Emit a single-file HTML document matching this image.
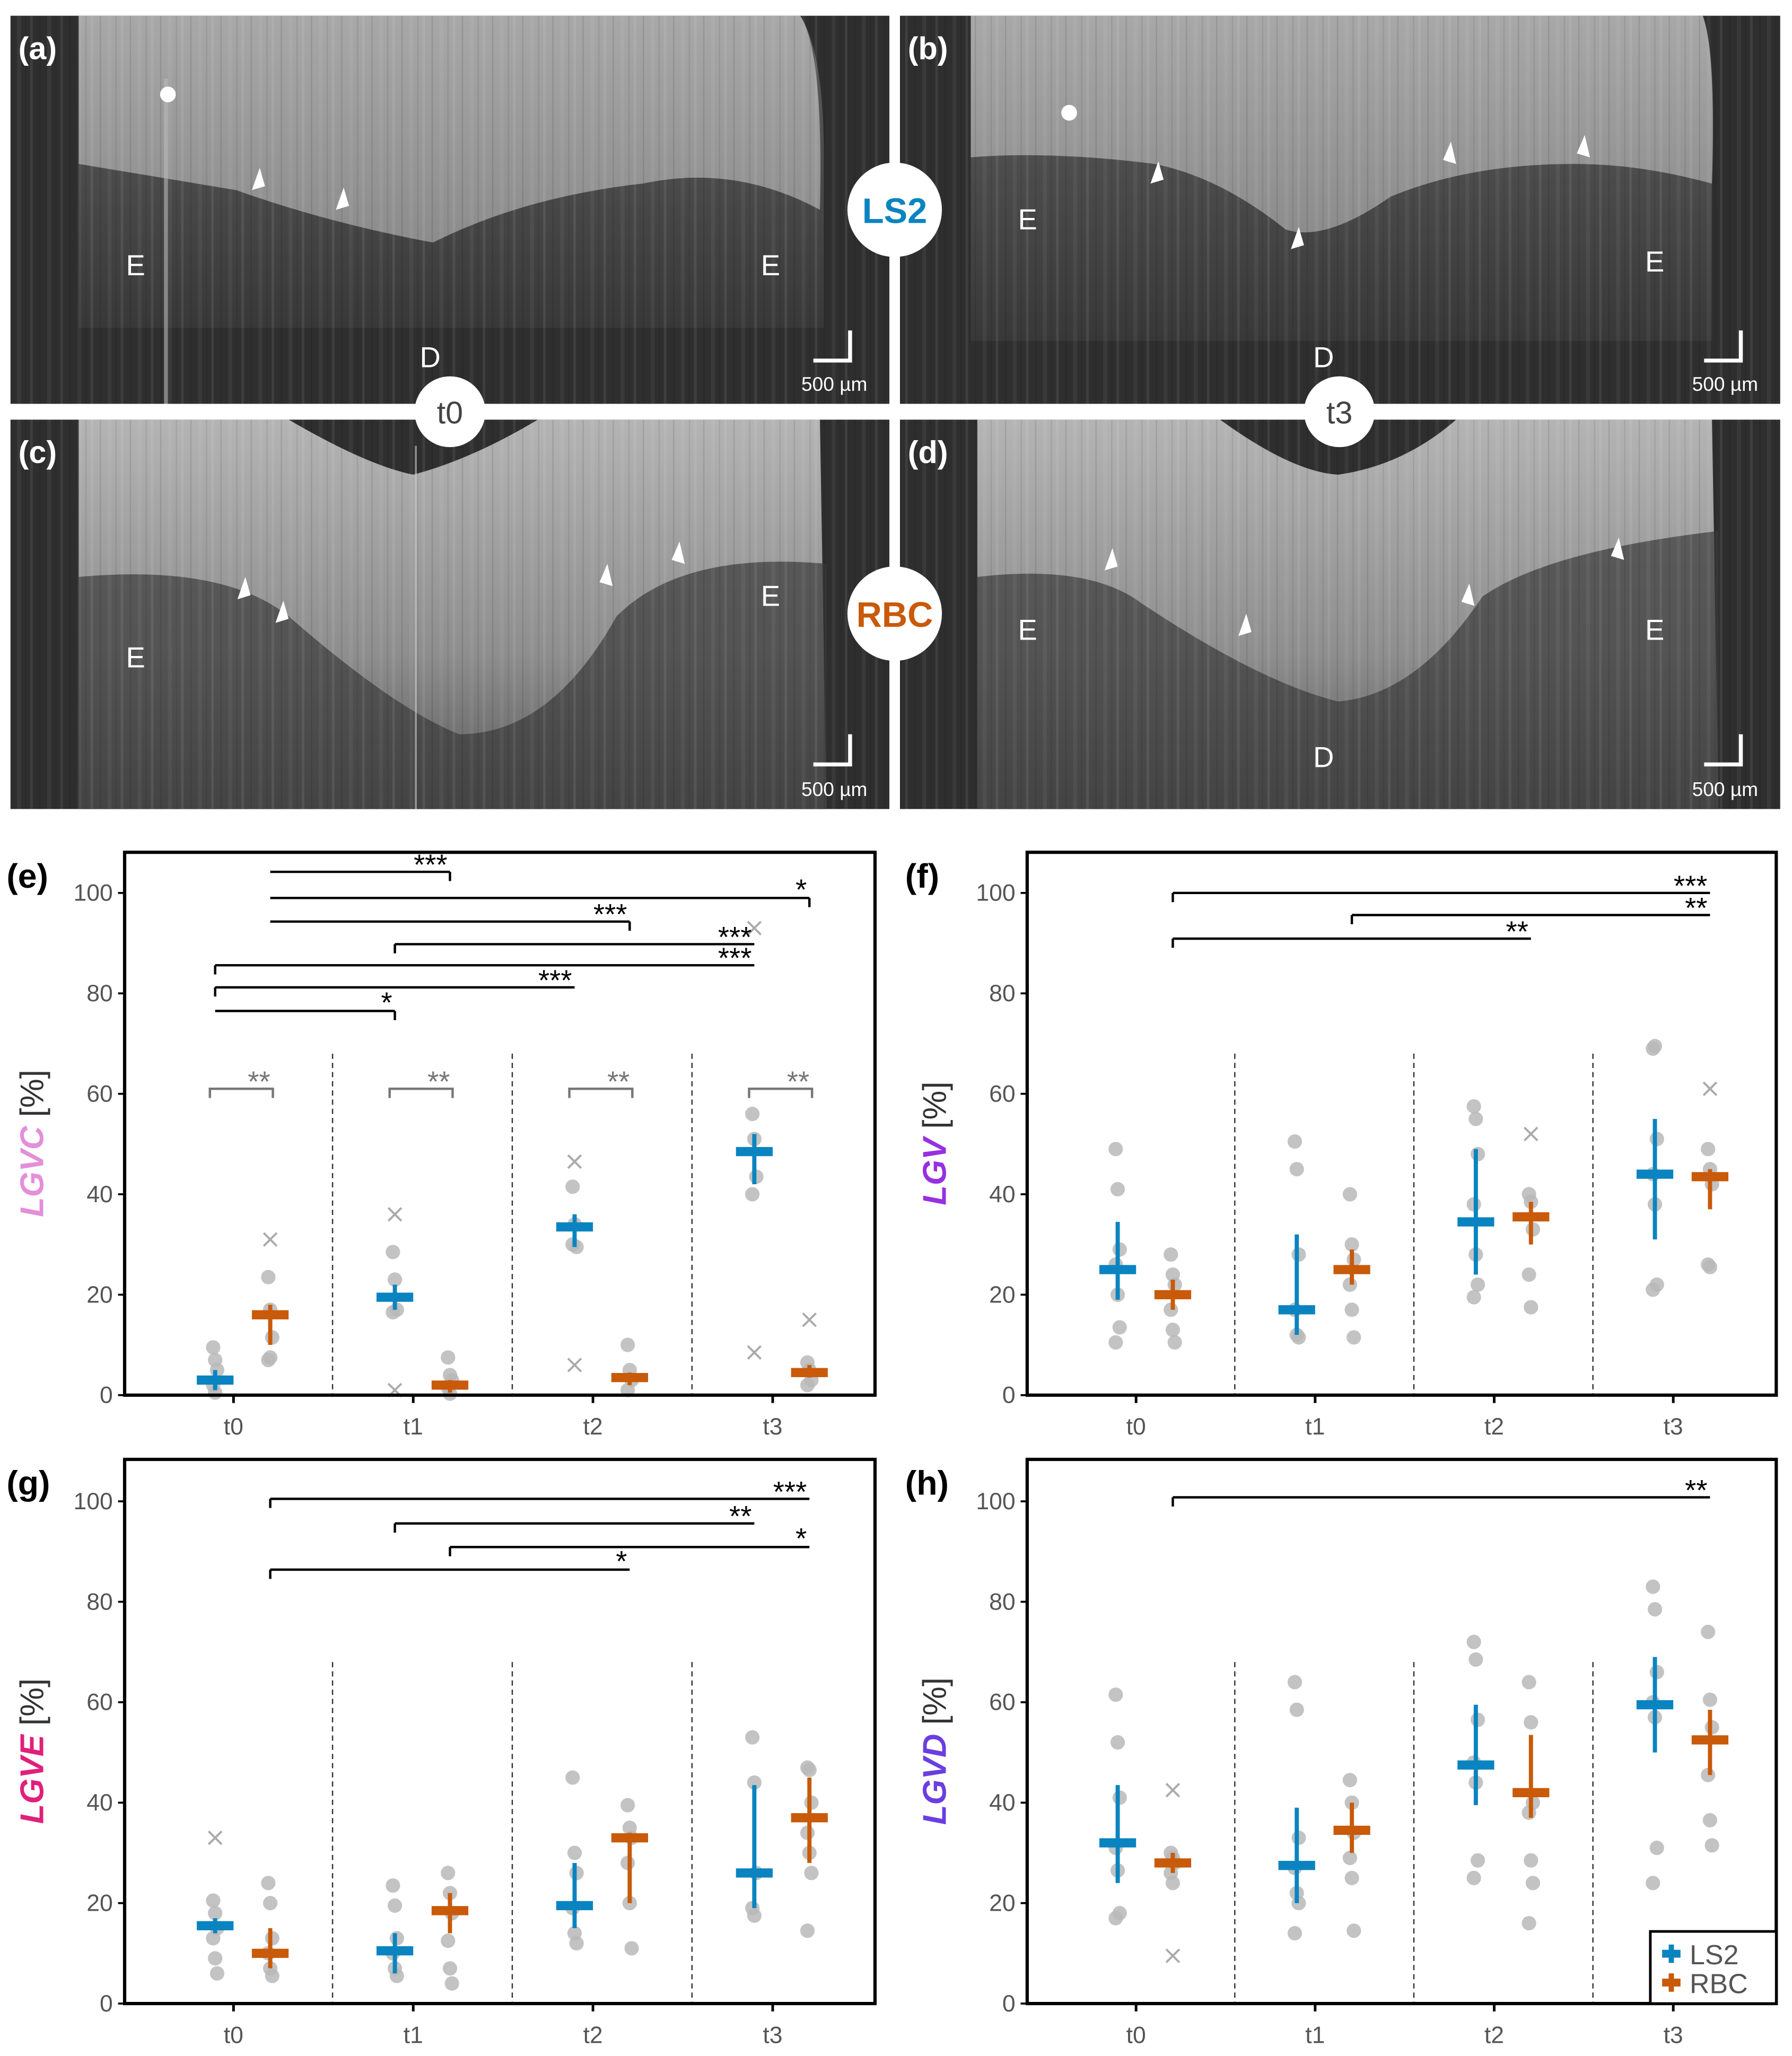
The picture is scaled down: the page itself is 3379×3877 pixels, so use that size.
<!DOCTYPE html>
<html><head><meta charset="utf-8">
<style>
html,body{margin:0;padding:0;background:#fff;}
svg{display:block;}
text{font-family:"Liberation Sans",sans-serif;}
</style></head>
<body>
<svg id="fig" xmlns="http://www.w3.org/2000/svg" width="3379" height="3877" viewBox="0 0 1366 1568" preserveAspectRatio="none">
<defs>
<linearGradient id="lightG" x1="0" y1="0" x2="0" y2="1"><stop offset="0" stop-color="#a8a8a8"/><stop offset="1" stop-color="#8c8c8c"/></linearGradient>
<linearGradient id="midG" x1="0" y1="0" x2="0" y2="1"><stop offset="0" stop-color="#5e5e5e"/><stop offset="1" stop-color="#383838"/></linearGradient>
<linearGradient id="lightC" x1="0" y1="0" x2="0" y2="1"><stop offset="0" stop-color="#b4b4b4"/><stop offset="0.6" stop-color="#8e8e8e"/><stop offset="1" stop-color="#5a5a5a"/></linearGradient>
<pattern id="stripes" width="23" height="10" patternUnits="userSpaceOnUse">
 <rect x="0" y="0" width="2" height="10" fill="#fff" opacity="0.08"/>
 <rect x="7" y="0" width="1" height="10" fill="#000" opacity="0.10"/>
 <rect x="13" y="0" width="3" height="10" fill="#fff" opacity="0.05"/>
 <rect x="19" y="0" width="1" height="10" fill="#000" opacity="0.08"/>
</pattern>
</defs>
<g id="images">
 <g>
  <rect x="8" y="12" width="670" height="296" fill="#2e2e2e"/>
  <path d="M60,12 H610 Q628,40 628,120 L628,250 L60,250 Z" fill="url(#midG)"/>
  <path d="M60,12 H610 Q628,40 625,160 Q560,125 490,140 Q400,150 330,185 Q250,170 180,145 Q120,135 60,125 Z" fill="url(#lightG)"/>
  <rect x="8" y="12" width="670" height="296" fill="url(#stripes)"/>
  <rect x="125" y="60" width="3" height="248" fill="#bbb" opacity="0.6"/>
  <circle cx="128" cy="72" r="6" fill="#fff"/>
 </g>
 <g>
  <rect x="686" y="12" width="671" height="296" fill="#2e2e2e"/>
  <path d="M740,12 H1298 Q1308,40 1305,120 L1305,260 L740,260 Z" fill="url(#midG)"/>
  <path d="M740,12 H1298 Q1308,40 1305,140 Q1250,125 1200,125 Q1120,125 1060,150 Q1010,185 980,175 Q930,135 880,125 Q800,115 740,120 Z" fill="url(#lightG)"/>
  <rect x="686" y="12" width="671" height="296" fill="url(#stripes)"/>
  <circle cx="815" cy="86" r="6" fill="#fff"/>
 </g>
 <g>
  <rect x="8" y="320" width="670" height="297" fill="#2e2e2e"/>
  <path d="M60,320 H220 Q280,355 315,362 Q360,350 410,320 H625 L630,617 H60 Z" fill="url(#lightC)"/>
  <path d="M60,440 Q170,430 220,470 Q300,540 350,560 Q420,560 470,470 Q520,420 630,430 L630,617 L60,617 Z" fill="#3a3a3a" opacity="0.7"/>
  <rect x="8" y="320" width="670" height="297" fill="url(#stripes)"/>
  <line x1="317" y1="340" x2="317" y2="617" stroke="#ccc" stroke-width="1.5" opacity="0.6"/>
 </g>
 <g>
  <rect x="686" y="320" width="671" height="297" fill="#2e2e2e"/>
  <path d="M745,320 H930 Q985,360 1020,362 Q1070,355 1110,320 H1305 L1310,617 H745 Z" fill="url(#lightC)"/>
  <path d="M745,440 Q830,430 870,460 Q960,520 1020,535 Q1080,530 1130,455 Q1180,420 1310,405 L1310,617 L745,617 Z" fill="#3a3a3a" opacity="0.7"/>
  <rect x="686" y="320" width="671" height="297" fill="url(#stripes)"/>
 </g>
 <g fill="#fff" font-size="22">
  <text x="14" y="45" font-weight="bold" font-size="24">(a)</text>
  <text x="692" y="45" font-weight="bold" font-size="24">(b)</text>
  <text x="14" y="353" font-weight="bold" font-size="24">(c)</text>
  <text x="692" y="353" font-weight="bold" font-size="24">(d)</text>
  <text x="96" y="210">E</text><text x="580" y="210">E</text><text x="320" y="280">D</text>
  <text x="776" y="175">E</text><text x="1254" y="207">E</text><text x="1001" y="280">D</text>
  <text x="96" y="509">E</text><text x="580" y="462">E</text>
  <text x="776" y="488">E</text><text x="1254" y="488">E</text><text x="1001" y="585">D</text>
 </g>
 <g fill="#fff">
  <path d="M198,128 l-6,17 l10,-3z"/><path d="M262,143 l-6,17 l10,-3z"/>
  <path d="M883,123 l-6,17 l10,-3z"/><path d="M990,173 l-6,17 l10,-3z"/><path d="M1106,108 l4,17 l-10,-3z"/><path d="M1208,103 l4,17 l-10,-3z"/>
  <path d="M187,440 l-6,17 l10,-3z"/><path d="M216,458 l-6,17 l10,-3z"/><path d="M463,430 l4,17 l-10,-3z"/><path d="M518,413 l4,17 l-10,-3z"/>
  <path d="M848,418 l-6,17 l10,-3z"/><path d="M950,468 l-6,17 l10,-3z"/><path d="M1120,445 l4,17 l-10,-3z"/><path d="M1234,410 l4,17 l-10,-3z"/>
 </g>
 <g stroke="#fff" stroke-width="3" fill="none">
  <path d="M648,252 V275 H620"/><path d="M1327,252 V275 H1299"/><path d="M648,560 V583 H620"/><path d="M1327,560 V583 H1299"/>
 </g>
 <g fill="#fff" font-size="15" text-anchor="middle">
  <text x="636" y="298">500 µm</text><text x="1315" y="298">500 µm</text><text x="636" y="607">500 µm</text><text x="1315" y="607">500 µm</text>
 </g>
 <rect x="678" y="12" width="8" height="605" fill="#fff"/>
 <rect x="8" y="308" width="1349" height="12" fill="#fff"/>
 <g><circle cx="682" cy="160" r="36" fill="#fff"/><text x="682" y="170" text-anchor="middle" font-size="27" font-weight="bold" fill="#0a84c0">LS2</text></g>
 <g><circle cx="682" cy="468" r="36" fill="#fff"/><text x="682" y="478" text-anchor="middle" font-size="27" font-weight="bold" fill="#c85a0a">RBC</text></g>
 <g><circle cx="343" cy="314" r="27" fill="#fff"/><text x="343" y="323" text-anchor="middle" font-size="24" fill="#444">t0</text></g>
 <g><circle cx="1021" cy="314" r="27" fill="#fff"/><text x="1021" y="323" text-anchor="middle" font-size="24" fill="#444">t3</text></g>
</g>
<g id="charts"></g>
</svg>
<script>
const categories = ["t0","t1","t2","t3"];
const yTicks = [0,20,40,60,80,100];
const series = ["LS2","RBC"];
// panel e LGVC
const eLS2Mean=[3,19.5,33.5,48.5], eLS2Lo=[1,17,29.5,42], eLS2Hi=[5,22,36,52];
const eRBCMean=[16,2,3.5,4.5], eRBCLo=[10,0.5,2,3.5], eRBCHi=[18,3,4.5,6];
const eLS2Pts=[[9.5,7,5,2,0.5],[28.5,23,17,16.5],[41.5,34,29.5,30],[56,51,43.5,40]];
const eRBCPts=[[23.5,17,11.5,7,7.5],[7.5,4,3,1.5,0.3],[10,5,3,1],[6.5,5,3,2]];
const eLS2X=[[],[36,1],[46.5,6],[93,8.5]];
const eRBCX=[[31],[],[],[15]];
// panel f LGV
const fLS2Mean=[25,17,34.5,44], fLS2Lo=[19,12,24,31], fLS2Hi=[34.5,32,49,55];
const fRBCMean=[20,25,35.5,43.5], fRBCLo=[17,22,30,37], fRBCHi=[23,29,38.5,45];
const fLS2Pts=[[49,41,29,26,20,13.5,10.5],[50.5,45,28,17,12,11.5],[57.5,55,48,38,28,22,19.5],[69,69.5,51,44,38,22,21]];
const fRBCPts=[[28,24,22,17,13,10.5],[40,30,27,22,17,11.5],[40,38.5,33,24,17.5],[49,45,42,26,25.5]];
const fLS2X=[[],[],[],[]];
const fRBCX=[[],[],[52],[61]];
// panel g LGVE
const gLS2Mean=[15.5,10.5,19.5,26], gLS2Lo=[14,6,15,19], gLS2Hi=[17,14,28,43.5];
const gRBCMean=[10,18.5,33,37], gRBCLo=[7,14,20,28], gRBCHi=[15,22,34,45];
const gLS2Pts=[[20.5,18,15,13,9,6],[23.5,19.5,13,10,7,5.5],[45,30,26,19,14,12],[53,44,26,19,17.5]];
const gRBCPts=[[24,20,13,10,7,5.5],[26,22,18,12.5,7,4],[39.5,35,33,28,20,11],[47,46.5,40,34,30,26,14.5]];
const gLS2X=[[33],[],[],[]];
const gRBCX=[[],[],[],[]];
// panel h LGVD
const hLS2Mean=[32,27.5,47.5,59.5], hLS2Lo=[24,20,39.5,50], hLS2Hi=[43.5,39,59.5,69];
const hRBCMean=[28,34.5,42,52.5], hRBCLo=[26,30,37,45.5], hRBCHi=[30,40,53.5,58.5];
const hLS2Pts=[[61.5,52,41,31,26.5,18,17],[64,58.5,33,27,22,20,14],[72,68.5,56.5,48,44,28.5,25],[83,78.5,66,60,57,31,24]];
const hRBCPts=[[30,29,28,26,24],[44.5,40,34,29,25,14.5],[64,56,40,38,28.5,24,16],[74,60.5,55,45.5,36.5,31.5]];
const hLS2X=[[],[],[],[]];
const hRBCX=[[42.5,9.5],[],[],[]];
// brackets: [fromCat, fromSeries(0=LS2,1=RBC), toCat, toSeries, yValue, label, tickSide]
const eBrackets=[[0,1,1,1,104.2,"***","R"],[0,1,3,1,99,"*","R"],[0,1,2,1,94.3,"***","R"],[1,0,3,0,89.8,"***","L"],[0,0,3,0,85.6,"***","L"],[0,0,2,0,81.2,"***","L"],[0,0,1,0,76.5,"*","R"]];
const fBrackets=[[0,1,3,1,100,"***","L"],[1,1,3,1,95.6,"**","L"],[0,1,2,1,90.9,"**","L"]];
const gBrackets=[[0,1,3,1,100.5,"***","L"],[1,0,3,0,95.6,"**","L"],[1,1,3,1,90.9,"*","L"],[0,1,2,1,86.4,"*","L"]];
const hBrackets=[[0,1,3,1,100.8,"**","L"]];
const eWithin=["**","**","**","**"];
const eWithinY=61;

const NS="http://www.w3.org/2000/svg";
const COL=["#0a84c0","#c85a0a"];
const root=document.getElementById("charts");
function mk(tag,attrs,parent,txt){const el=document.createElementNS(NS,tag);for(const k in attrs)el.setAttribute(k,attrs[k]);if(txt!==undefined)el.textContent=txt;parent.appendChild(el);return el;}

function panel(cfg){
  const g=mk("g",{},root);
  
  
  const {fx0,fx1,fy0,fy1,tick0,step}=cfg;
  const ys=v=>fy1-v*3.83;
  const xs=(c,s)=>tick0+c*step+(s===0?-14:28);
  yTicks.forEach(t=>{
    const tl=mk("text",{x:fx0-9,y:ys(t)+6,"text-anchor":"end","font-size":"18",fill:"#555"},g,String(t));
    
    
    mk("line",{x1:fx0-5,x2:fx0,y1:ys(t),y2:ys(t),stroke:"#000","stroke-width":1.5},g);
  });
  categories.forEach((c,i)=>{
    const x=tick0+i*step;
    mk("line",{x1:x,x2:x,y1:fy1,y2:fy1+6,stroke:"#000","stroke-width":2},g);
    const tl=mk("text",{x:x,y:fy1+30,"text-anchor":"middle","font-size":"18",fill:"#555"},g,c);
    
    
    if(i<3){const dl=mk("line",{x1:x+step/2+7,x2:x+step/2+7,y1:ys(68),y2:fy1,stroke:"#333","stroke-width":1,"stroke-dasharray":"4,3"},g);
      
      }
  });
  [cfg.ls2Pts,cfg.rbcPts].forEach((arr,s)=>{
    arr.forEach((pts,c)=>pts.forEach((v,k)=>{
      const p=mk("circle",{cx:xs(c,s)+((k%3)-1)*1.5,cy:ys(v),r:5.5,fill:"#b8b8b8",opacity:0.85},g);
      
      
    }));
  });
  [cfg.ls2X,cfg.rbcX].forEach((arr,s)=>{
    arr.forEach((pts,c)=>pts.forEach(v=>{
      const x=xs(c,s),y=ys(v);
      const p=mk("path",{d:`M${x-5},${y-5}L${x+5},${y+5}M${x+5},${y-5}L${x-5},${y+5}`,stroke:"#aaa","stroke-width":1.6},g);
      
      
    }));
  });
  [[cfg.ls2Mean,cfg.ls2Lo,cfg.ls2Hi],[cfg.rbcMean,cfg.rbcLo,cfg.rbcHi]].forEach((a,s)=>{
    a[0].forEach((m,c)=>{
      const x=xs(c,s);
      const e=mk("line",{x1:x,x2:x,y1:ys(a[1][c]),y2:ys(a[2][c]),stroke:COL[s],"stroke-width":3.2},g);
      
      
      const r=mk("rect",{x:x-14,y:ys(m)-3.5,width:28,height:7,fill:COL[s]},g);
      
      
    });
  });
  cfg.brackets.forEach(b=>{
    const x1=xs(b[0],b[1]),x2=xs(b[2],b[3]),y=ys(b[4]);
    const tx=b[6]==="L"?x1:x2;
    const p=mk("path",{d:`M${x1},${y}H${x2}M${tx},${y}v7`,stroke:"#000","stroke-width":1.8,fill:"none"},g);
    
    
    const t=mk("text",{x:x2-2,y:y+(b[5].length===1?1:2),"text-anchor":"end","font-size":"22",fill:"#000"},g,b[5]);
    
    
  });
  if(cfg.within){cfg.within.forEach((lab,c)=>{
    const x1=xs(c,0)-4,x2=xs(c,1)+2,y=ys(eWithinY);
    const p=mk("path",{d:`M${x1},${y+7}V${y}H${x2}V${y+7}`,stroke:"#777","stroke-width":1.8,fill:"none"},g);
    
    
    const t=mk("text",{x:x2-2,y:y+2,"text-anchor":"end","font-size":"22",fill:"#777"},g,lab);
    
    
  });}
  const fr=mk("rect",{x:fx0,y:fy0,width:fx1-fx0,height:fy1-fy0,fill:"none",stroke:"#000","stroke-width":2.5},g);
  
  
  const pl=mk("text",{x:cfg.lx,y:fy0+27,"font-size":"26","font-weight":"bold",fill:"#000"},g,"("+cfg.id+")");
  
  
  const cy=(fy0+fy1)/2+15, cx=fx0-62;
  const yt=mk("text",{x:cx,y:cy,transform:`rotate(-90 ${cx} ${cy})`,"text-anchor":"middle","font-size":"25",fill:"#333"},g);
  
  
  mk("tspan",{fill:cfg.color,"font-style":"italic","font-weight":"bold"},yt,cfg.title);
  mk("tspan",{},yt," [%]");
}
panel({id:"e",fx0:95,fx1:667,fy0:650,fy1:1064,tick0:178,step:137,lx:5,title:"LGVC",color:"#e38fda",
 ls2Mean:eLS2Mean,ls2Lo:eLS2Lo,ls2Hi:eLS2Hi,rbcMean:eRBCMean,rbcLo:eRBCLo,rbcHi:eRBCHi,ls2Pts:eLS2Pts,rbcPts:eRBCPts,ls2X:eLS2X,rbcX:eRBCX,brackets:eBrackets,within:eWithin});
panel({id:"f",fx0:783,fx1:1354,fy0:650,fy1:1064,tick0:866,step:136.5,lx:690,title:"LGV",color:"#9630e0",
 ls2Mean:fLS2Mean,ls2Lo:fLS2Lo,ls2Hi:fLS2Hi,rbcMean:fRBCMean,rbcLo:fRBCLo,rbcHi:fRBCHi,ls2Pts:fLS2Pts,rbcPts:fRBCPts,ls2X:fLS2X,rbcX:fRBCX,brackets:fBrackets});
panel({id:"g",fx0:95,fx1:667,fy0:1113,fy1:1528,tick0:178,step:137,lx:5,title:"LGVE",color:"#e0207a",
 ls2Mean:gLS2Mean,ls2Lo:gLS2Lo,ls2Hi:gLS2Hi,rbcMean:gRBCMean,rbcLo:gRBCLo,rbcHi:gRBCHi,ls2Pts:gLS2Pts,rbcPts:gRBCPts,ls2X:gLS2X,rbcX:gRBCX,brackets:gBrackets});
panel({id:"h",fx0:783,fx1:1354,fy0:1113,fy1:1528,tick0:866,step:136.5,lx:690,title:"LGVD",color:"#6a3ee0",
 ls2Mean:hLS2Mean,ls2Lo:hLS2Lo,ls2Hi:hLS2Hi,rbcMean:hRBCMean,rbcLo:hRBCLo,rbcHi:hRBCHi,ls2Pts:hLS2Pts,rbcPts:hRBCPts,ls2X:hLS2X,rbcX:hRBCX,brackets:hBrackets});
const lg=mk("g",{},root);


mk("rect",{x:1258,y:1473,width:96,height:55,fill:"#fff",stroke:"#000","stroke-width":2},lg);
series.forEach((s,i)=>{
  const y=1490+i*22;
  const e=mk("g",{},lg);
  
  
  mk("rect",{x:1267,y:y-3,width:14,height:6,fill:COL[i]},e);
  mk("rect",{x:1272,y:y-7,width:4,height:14,fill:COL[i]},e);
  mk("text",{x:1288,y:y+8,"font-size":"21",fill:"#555"},e,s);
});
</script>
</body></html>
